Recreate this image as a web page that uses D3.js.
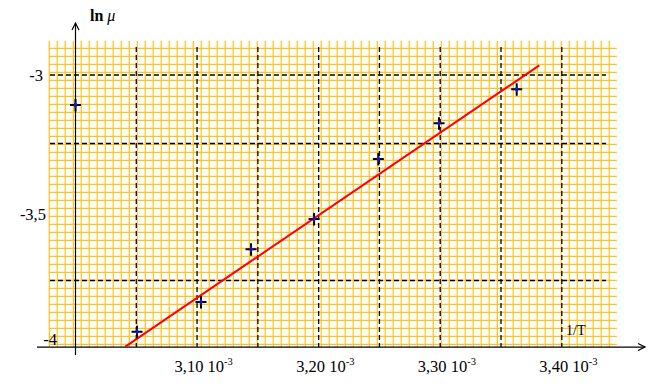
<!DOCTYPE html>
<html>
<head>
<meta charset="utf-8">
<script src="https://cdn.jsdelivr.net/npm/d3@7"></script>
<style>
  body { margin: 0; background: #fff; }
  svg { display: block; }
</style>
</head>
<body>
<div id="chart"></div>
<script>
"use strict";

// measured points : 1/T (K^-1) and ln(mu)
var invT = [3.000e-3, 3.0506e-3, 3.1032e-3, 3.1444e-3, 3.1962e-3, 3.2491e-3, 3.2990e-3, 3.3629e-3];
var lnMu = [-3.1095, -3.9369, -3.8285, -3.6361, -3.5255, -3.3066, -3.1763, -3.0522];

// fitted straight line (two ends)
var fitX = [3.0407e-3, 3.3815e-3];
var fitY = [-3.992, -2.965];

// tick labels
var xTickValues = [3.10e-3, 3.20e-3, 3.30e-3, 3.40e-3];
var xTickLabels = ["3,10", "3,20", "3,30", "3,40"];
var yTickValues = [-3, -3.5, -4];
var yTickLabels = ["-3", "-3,5", "-4"];

// dashed reference lines
var xDashed = [3.05e-3, 3.10e-3, 3.15e-3, 3.20e-3, 3.25e-3, 3.30e-3, 3.35e-3, 3.40e-3];
var yDashed = [-3, -3.25, -3.75];

var W = 657, H = 391;
var serif = "Liberation Serif, Times New Roman, serif";

var x = d3.scaleLinear().domain([3.0e-3, 3.4e-3]).range([75.5, 561.8]);
var y = d3.scaleLinear().domain([-4, -3]).range([349, 75]);
var xAxisAt = -3.993;   // where the horizontal axis crosses

var svg = d3.select("#chart").append("svg")
  .attr("width", W)
  .attr("height", H)
  .style("font-family", serif);

svg.append("rect").attr("width", W).attr("height", H).attr("fill", "#fff");

// graph paper (orange grid)
var paper = svg.append("g").attr("stroke", "#fdc41e").attr("stroke-width", 1.25);
paper.selectAll("line.v").data(d3.range(49.3, 612, 8))
  .join("line").attr("class", "v")
    .attr("x1", d => d).attr("x2", d => d)
    .attr("y1", 41).attr("y2", 347);
paper.selectAll("line.h").data(d3.range(48.3, 346, 8))
  .join("line").attr("class", "h")
    .attr("x1", 49).attr("x2", 617)
    .attr("y1", d => d).attr("y2", d => d);

// dashed lines
var dash = svg.append("g").attr("stroke", "#000").attr("stroke-width", 1.3)
  .attr("stroke-dasharray", "5,3");
dash.selectAll("line.v").data(xDashed)
  .join("line").attr("class", "v")
    .attr("x1", d => x(d)).attr("x2", d => x(d))
    .attr("y1", 47).attr("y2", y(xAxisAt));
dash.selectAll("line.h").data(yDashed)
  .join("line").attr("class", "h")
    .attr("x1", 50).attr("x2", 606)
    .attr("y1", d => y(d)).attr("y2", d => y(d));

// axes lines with open arrows
var axes = svg.append("g").attr("stroke", "#000").attr("stroke-width", 1.2).attr("fill", "none");
var x0 = x(3.0e-3), yA = y(xAxisAt);
axes.append("line").attr("x1", 37).attr("x2", 645).attr("y1", yA).attr("y2", yA);
axes.append("path").attr("d", "M638," + (yA - 3.5) + "L645," + yA + "L638," + (yA + 3.5));
axes.append("line").attr("x1", x0).attr("x2", x0).attr("y1", 355).attr("y2", 23);
axes.append("path").attr("d", "M" + (x0 - 3.5) + ",30L" + x0 + ",23L" + (x0 + 3.5) + ",30");

// tick labels through d3 axes
var gx = svg.append("g").attr("transform", "translate(0,372)")
  .call(d3.axisBottom(x).tickValues(xTickValues).tickSize(0).tickPadding(0)
    .tickFormat((d, i) => xTickLabels[i] + " 10"));
gx.attr("font-family", serif);
gx.select(".domain").remove();
gx.selectAll(".tick text")
  .attr("font-size", 16.5).attr("fill", "#000")
  .attr("text-anchor", "start").attr("x", -23).attr("y", 0).attr("dy", 0)
  .append("tspan").attr("dy", -7).attr("font-size", 10.5).text("-3");

var gy = svg.append("g").attr("transform", "translate(43,0)")
  .call(d3.axisLeft(y).tickValues(yTickValues).tickSize(0).tickPadding(0)
    .tickFormat((d, i) => yTickLabels[i]));
gy.attr("font-family", serif);
gy.select(".domain").remove();
gy.selectAll(".tick text")
  .attr("font-size", 16.5).attr("fill", "#000")
  .attr("transform", d => d === -4 ? "translate(14,-10)" : (d === -3.5 ? "translate(3,2)" : null));

// fitted line
svg.append("line")
  .attr("x1", x(fitX[0])).attr("y1", y(fitY[0]))
  .attr("x2", x(fitX[1])).attr("y2", y(fitY[1]))
  .attr("stroke", "#ff0000").attr("stroke-width", 2);

// points
var pts = svg.append("g").selectAll("g").data(invT)
  .join("g")
    .attr("transform", (d, i) => "translate(" + x(d) + "," + y(lnMu[i]) + ")");
pts.append("path")
  .attr("d", "M-5.5,0H5.5M0,-6V6.5")
  .attr("stroke", "#000").attr("stroke-width", 2);
pts.append("path")
  .attr("d", d3.symbol(d3.symbolDiamond, 14))
  .attr("fill", "#1515d0");

// axis titles
var yt = svg.append("text").attr("x", 90).attr("y", 21)
  .attr("font-size", 16).attr("fill", "#000");
yt.append("tspan").attr("font-weight", "bold").text("ln");
yt.append("tspan").attr("font-style", "italic").text(" \u03bc");

svg.append("text").attr("x", 566).attr("y", 335)
  .attr("font-size", 14).attr("fill", "#000")
  .text("1/T");
</script>
</body>
</html>
